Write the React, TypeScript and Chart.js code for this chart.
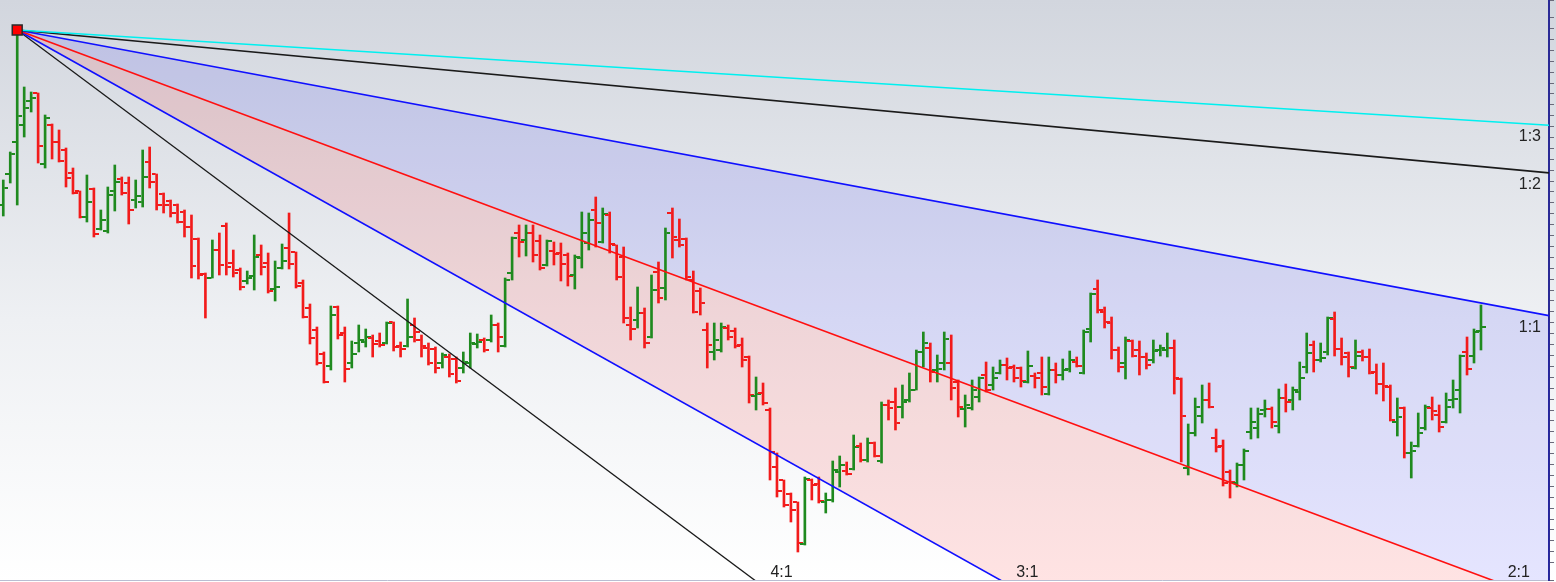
import React, { useEffect, useRef } from "react";
import { Chart, registerables } from "chart.js";

Chart.register(...registerables);

// ---- OHLC data (one bar per session) ----
const opens = [
  129.5, 132.6, 135.8, 137.5, 139.9, 140.7, 133.6, 137.5, 135.8, 135.0,
  132.7, 130.9, 128.3, 131.1, 127.1, 126.9, 130.9, 132.1, 131.7, 130.0,
  129.8, 133.8, 132.6, 130.6, 129.9, 129.5, 128.8, 127.3, 126.1, 122.6,
  122.2, 125.0, 127.4, 123.7, 123.0, 121.9, 122.4, 124.5, 123.7, 121.1,
  123.2, 125.2, 124.8, 121.7, 119.2, 117.0, 114.6, 113.4, 119.3, 116.7,
  113.7, 115.7, 115.8, 116.2, 115.9, 115.7, 117.8, 115.4, 115.4, 117.5,
  116.0, 115.2, 115.1, 113.7, 114.3, 114.1, 113.2, 113.7, 115.6, 116.0,
  116.0, 117.5, 115.4, 122.7, 126.7, 126.0, 126.7, 125.9, 123.5, 124.9,
  124.7, 124.5, 122.5, 124.2, 125.7, 129.0, 125.8, 128.5, 125.5, 124.3,
  117.5, 118.0, 118.7, 116.3, 122.8, 121.2, 128.7, 126.0, 126.1, 122.0,
  120.9, 117.0, 114.8, 115.0, 117.2, 116.9, 115.5, 114.3, 110.4, 110.7,
  109.0, 103.3, 102.0, 100.6, 99.8, 95.6, 102.0, 101.6, 99.8, 100.0,
  102.8, 102.9, 103.1, 105.4, 104.0, 105.7, 103.9, 109.5, 109.8, 109.3,
  110.0, 111.0, 114.8, 115.2, 113.0, 113.7, 113.7, 111.8, 109.1, 109.2,
  110.3, 112.5, 111.5, 112.7, 113.5, 113.3, 113.2, 111.8, 112.4, 112.7,
  110.6, 113.0, 112.5, 113.1, 113.8, 112.7, 117.1, 121.1, 118.8, 117.7,
  115.0, 113.7, 115.9, 115.0, 114.3, 114.0, 115.0, 115.0, 115.2, 112.1,
  103.2, 106.7, 108.4, 110.0, 106.2, 105.4, 102.8, 101.7, 103.5, 106.8,
  107.2, 109.0, 109.1, 107.4, 110.2, 110.0, 110.8, 113.3, 115.5, 114.0,
  114.8, 118.1, 115.1, 114.7, 113.2, 114.8, 114.3, 112.8, 111.6, 111.3,
  107.8, 109.2, 104.7, 105.4, 107.2, 109.2, 108.5, 107.8, 110.0, 111.0,
  114.8, 114.4, 116.9,
];

const highs = [
  132.0, 134.8, 147.0, 141.3, 140.8, 140.7, 138.5, 137.6, 137.0, 135.2,
  133.2, 130.9, 132.5, 131.2, 129.0, 131.3, 133.5, 132.3, 132.3, 132.0,
  135.0, 135.3, 132.6, 130.7, 130.0, 129.6, 129.0, 128.5, 126.2, 122.7,
  126.0, 126.7, 127.7, 125.0, 123.2, 122.9, 126.5, 125.5, 124.7, 123.9,
  125.6, 128.7, 124.8, 122.0, 119.6, 117.3, 114.8, 119.4, 119.4, 117.3,
  115.9, 117.5, 117.1, 116.5, 116.7, 117.8, 117.8, 115.8, 120.1, 118.2,
  116.5, 115.7, 115.3, 114.7, 114.6, 114.3, 114.8, 116.7, 116.6, 116.2,
  118.5, 117.7, 122.2, 126.3, 127.5, 127.5, 127.5, 126.5, 126.0, 125.8,
  125.7, 124.7, 124.5, 128.8, 128.7, 130.3, 129.2, 128.8, 125.5, 125.3,
  119.3, 121.3, 119.2, 122.5, 123.8, 127.2, 129.2, 128.1, 126.2, 122.9,
  121.2, 117.7, 117.7, 117.7, 117.5, 117.2, 116.2, 114.4, 112.3, 111.7,
  109.2, 104.7, 102.0, 100.7, 99.8, 102.3, 102.1, 102.3, 100.7, 103.9,
  104.4, 103.8, 106.5, 105.7, 106.2, 105.8, 109.8, 110.0, 111.2, 111.5,
  112.7, 115.0, 116.8, 115.7, 114.5, 116.8, 116.5, 112.0, 110.5, 112.0,
  112.3, 113.8, 113.3, 114.0, 114.2, 113.5, 113.3, 114.9, 112.7, 114.3,
  114.3, 113.7, 114.1, 114.9, 114.3, 117.0, 120.7, 122.0, 119.3, 118.3,
  115.3, 116.3, 116.0, 115.9, 114.7, 116.0, 115.5, 116.7, 116.0, 112.2,
  107.6, 110.2, 111.5, 111.7, 107.1, 106.0, 103.0, 103.7, 105.1, 109.2,
  109.2, 110.0, 109.3, 111.1, 111.6, 111.3, 113.8, 116.7, 115.9, 115.7,
  118.3, 118.8, 116.2, 114.8, 116.0, 115.0, 115.1, 113.6, 113.7, 111.5,
  110.2, 109.3, 105.8, 108.7, 109.5, 110.3, 109.5, 110.7, 112.0, 114.5,
  116.3, 117.1, 119.5,
];

const lows = [
  128.4, 131.7, 129.5, 136.3, 138.8, 133.7, 133.2, 134.1, 133.8, 131.3,
  130.6, 128.2, 127.8, 126.3, 127.0, 126.7, 128.9, 130.5, 127.6, 129.2,
  129.3, 131.2, 129.0, 128.7, 128.3, 127.7, 126.3, 122.2, 122.1, 118.2,
  122.2, 122.5, 122.5, 122.3, 121.0, 121.6, 121.0, 122.5, 120.7, 119.9,
  123.1, 123.1, 121.2, 118.2, 115.6, 113.5, 111.7, 113.0, 116.1, 111.8,
  113.2, 114.8, 115.3, 114.3, 115.3, 115.6, 114.9, 114.3, 115.3, 115.8,
  114.3, 113.5, 112.7, 113.2, 112.3, 111.7, 112.7, 113.2, 115.2, 114.8,
  115.8, 114.8, 115.3, 122.0, 124.3, 124.4, 123.8, 123.0, 123.4, 123.5,
  121.9, 121.4, 121.1, 123.2, 125.0, 125.3, 125.7, 124.7, 122.0, 117.7,
  116.0, 117.2, 115.2, 116.2, 119.7, 120.0, 124.2, 125.3, 122.0, 118.7,
  118.5, 113.2, 114.0, 114.8, 116.0, 115.2, 113.3, 109.7, 109.0, 109.5,
  102.0, 100.3, 99.3, 97.8, 94.8, 95.5, 100.0, 99.7, 98.7, 99.8,
  101.3, 102.5, 103.0, 103.8, 103.8, 104.3, 103.7, 108.0, 107.0, 108.2,
  109.8, 111.0, 113.3, 111.8, 111.8, 113.0, 110.0, 108.3, 107.3, 109.0,
  109.8, 110.8, 111.0, 112.6, 112.0, 111.8, 111.3, 111.7, 111.2, 110.5,
  110.5, 111.7, 112.0, 112.8, 113.3, 112.6, 115.8, 118.7, 117.2, 114.1,
  112.8, 112.1, 114.3, 112.5, 113.1, 113.7, 114.4, 114.3, 110.6, 103.8,
  102.5, 106.4, 107.7, 109.2, 104.8, 101.4, 100.2, 101.3, 102.0, 106.1,
  106.2, 108.3, 107.2, 106.7, 108.8, 109.0, 110.0, 112.7, 112.8, 113.8,
  114.5, 114.4, 113.5, 112.3, 113.1, 113.9, 112.6, 110.6, 109.9, 107.9,
  106.4, 104.2, 102.2, 105.3, 107.0, 108.0, 106.8, 107.7, 109.2, 108.7,
  112.5, 113.7, 115.0,
];

const closes = [
  131.2, 134.6, 138.4, 139.2, 140.2, 135.4, 138.2, 135.8, 133.9, 132.2,
  130.7, 128.3, 129.8, 126.6, 128.0, 130.5, 131.8, 130.7, 129.0, 130.4,
  132.3, 131.8, 129.5, 129.5, 128.7, 127.8, 127.3, 123.4, 122.5, 122.2,
  125.0, 123.5, 123.3, 122.7, 121.3, 122.2, 124.3, 123.3, 120.9, 121.3,
  123.9, 123.6, 121.4, 118.3, 116.2, 113.7, 111.8, 118.5, 116.5, 113.1,
  114.6, 116.0, 116.3, 115.6, 115.5, 117.7, 115.3, 115.1, 116.3, 116.8,
  115.4, 113.7, 113.2, 114.5, 112.6, 111.9, 113.8, 115.7, 115.8, 115.0,
  117.5, 116.3, 122.0, 126.2, 125.8, 126.7, 124.5, 123.2, 125.9, 124.6,
  123.6, 122.4, 124.3, 126.7, 128.0, 127.7, 128.6, 125.6, 122.3, 118.2,
  117.1, 118.7, 115.7, 121.0, 120.2, 126.7, 126.3, 125.5, 122.3, 118.8,
  119.7, 115.5, 116.0, 117.3, 116.3, 115.4, 114.0, 110.5, 110.6, 109.7,
  104.8, 100.9, 99.5, 99.0, 95.7, 102.1, 101.5, 99.9, 100.0, 103.0,
  103.5, 102.6, 105.3, 104.0, 105.7, 104.4, 109.5, 109.2, 107.7, 109.8,
  111.0, 114.8, 115.7, 112.8, 113.1, 116.1, 111.2, 109.3, 109.5, 111.0,
  112.2, 111.0, 112.2, 113.5, 113.2, 112.2, 111.9, 113.4, 112.2, 111.3,
  113.0, 112.5, 113.0, 114.0, 113.4, 116.8, 120.6, 119.0, 117.8, 115.0,
  113.3, 116.0, 114.4, 114.3, 113.5, 114.9, 115.2, 115.2, 112.2, 108.4,
  106.7, 109.3, 110.0, 109.3, 105.3, 101.7, 101.8, 103.5, 104.9, 107.8,
  108.6, 109.1, 107.8, 110.2, 109.8, 111.0, 112.2, 114.7, 114.0, 114.2,
  118.2, 115.1, 114.3, 113.3, 114.4, 114.3, 112.7, 111.6, 111.4, 108.0,
  108.3, 104.7, 104.9, 106.7, 109.3, 108.9, 107.3, 109.3, 110.1, 114.4,
  113.1, 116.8, 117.3,
];

// ---- Gann fan ----
const fanOriginBar = 2;
const fanOriginPrice = 147.0;
const fanUnitSlope = 0.13; // price per bar for the 1x1 line
const fanLabels = ["1:3", "1:2", "1:1", "2:1", "3:1", "4:1"];
const fanMultipliers = [1 / 3, 1 / 2, 1, 2, 3, 4];
const fanColors = ["#00f0f0", "#1a1a1a", "#1010ff", "#ff1010", "#1010ff", "#1a1a1a"];

// ---- axes ----
const xMin = -0.47;
const xMax = 221.76;
const yMin = 92;
const yMax = 150;
const yTickStep = 1.09;

const UP = "#1f8a1f";
const DOWN = "#f21b1b";

function makeTick(color: string, left: boolean) {
  const c = document.createElement("canvas");
  c.width = 10;
  c.height = 2;
  const g = c.getContext("2d")!;
  g.fillStyle = color;
  g.fillRect(left ? 0 : 6, 0, 4, 2);
  return c;
}

export default function App() {
  const ref = useRef<HTMLCanvasElement | null>(null);

  useEffect(() => {
    if (!ref.current) return;
    const openUp = makeTick(UP, true);
    const openDn = makeTick(DOWN, true);
    const closeUp = makeTick(UP, false);
    const closeDn = makeTick(DOWN, false);
    const isUp = (i: number) => closes[i] >= opens[i];
    const barColors = opens.map((_, i) => (isUp(i) ? UP : DOWN));

    const fanDatasets: any[] = fanMultipliers.map((m, k) => {
      const slope = fanUnitSlope * m;
      const ds: any = {
        type: "line",
        label: fanLabels[k],
        data: [
          { x: fanOriginBar, y: fanOriginPrice },
          { x: xMax, y: fanOriginPrice - slope * (xMax - fanOriginBar) },
        ],
        borderColor: fanColors[k],
        borderWidth: k === 5 ? 1.3 : 1.6,
        pointRadius: 0,
        fill: false,
        order: 0,
      };
      if (k === 2) {
        ds.fill = { target: 3 };
        ds.backgroundColor = "rgba(0,0,255,0.10)";
      }
      if (k === 3) {
        ds.fill = { target: 4 };
        ds.backgroundColor = "rgba(255,0,0,0.11)";
      }
      return ds;
    });

    const bgPlugin = {
      id: "bg",
      beforeDraw(chart: any) {
        const { ctx, width, height } = chart;
        const g = ctx.createLinearGradient(0, 0, 0, height);
        g.addColorStop(0, "#d2d6de");
        g.addColorStop(0.55, "#eef0f3");
        g.addColorStop(1, "#ffffff");
        ctx.save();
        ctx.fillStyle = g;
        ctx.fillRect(0, 0, width, height);
        ctx.restore();
      },
    };

    const labelPlugin = {
      id: "fanLabels",
      afterDatasetsDraw(chart: any) {
        const { ctx, chartArea, scales } = chart;
        const xs = scales.x;
        const ys = scales.y;
        ctx.save();
        ctx.font = '16px "Liberation Sans", Arial, sans-serif';
        ctx.fillStyle = "#222222";
        ctx.textBaseline = "alphabetic";
        fanMultipliers.forEach((m, k) => {
          const slope = fanUnitSlope * m;
          const endVal = fanOriginPrice - slope * (xMax - fanOriginBar);
          if (endVal >= yMin) {
            const py = ys.getPixelForValue(endVal);
            ctx.textAlign = "right";
            ctx.fillText(fanLabels[k], chartArea.right - 8, py + 16);
          } else {
            const exitBar = fanOriginBar + (fanOriginPrice - yMin) / slope;
            const px = xs.getPixelForValue(exitBar);
            ctx.textAlign = "left";
            ctx.fillText(fanLabels[k], px + 16, chartArea.bottom - 3);
          }
        });
        ctx.restore();
      },
    };

    const chart = new Chart(ref.current, {
      type: "scatter",
      data: {
        datasets: [
          ...fanDatasets,
          {
            type: "bar",
            label: "range",
            data: highs.map((h, i) => ({ x: i, y: [lows[i], h] })),
            backgroundColor: barColors,
            borderWidth: 0,
            barThickness: 2,
            grouped: false,
            order: 3,
          } as any,
          {
            type: "scatter",
            label: "open",
            data: opens.map((o, i) => ({ x: i, y: o })),
            pointStyle: (c: any) => (isUp(c.dataIndex) ? openUp : openDn),
            pointRadius: 3,
            showLine: false,
            order: 2,
          } as any,
          {
            type: "scatter",
            label: "close",
            data: closes.map((v, i) => ({ x: i, y: v })),
            pointStyle: (c: any) => (isUp(c.dataIndex) ? closeUp : closeDn),
            pointRadius: 3,
            showLine: false,
            order: 2,
          } as any,
          {
            type: "scatter",
            label: "origin",
            data: [{ x: fanOriginBar, y: fanOriginPrice }],
            pointStyle: "rect",
            pointRadius: 7,
            backgroundColor: "#ff0000",
            borderColor: "#2a2a2a",
            borderWidth: 1.5,
            order: -1,
            clip: false,
          } as any,
        ],
      },
      options: {
        responsive: false,
        maintainAspectRatio: false,
        animation: false,
        layout: { padding: 0, autoPadding: false },
        plugins: {
          legend: { display: false },
          tooltip: { enabled: false },
          filler: { drawTime: "beforeDatasetsDraw" },
        } as any,
        scales: {
          x: {
            type: "linear",
            min: xMin,
            max: xMax,
            offset: false,
            position: "bottom",
            ticks: { display: false },
            grid: { display: false, drawTicks: false, offset: false },
            border: { display: true, color: "#b9bdd2", width: 1 },
            afterFit: (s: any) => {
              s.height = 2;
            },
          },
          y: {
            type: "linear",
            position: "right",
            min: yMin,
            max: yMax,
            beginAtZero: false,
            ticks: { display: false, stepSize: yTickStep },
            grid: {
              drawOnChartArea: false,
              drawTicks: true,
              tickLength: 5,
              color: "#6a6a7a",
              lineWidth: 1,
            },
            border: { display: true, color: "#2a2a96", width: 2 },
            afterFit: (s: any) => {
              s.width = 7;
            },
          },
        },
      } as any,
      plugins: [bgPlugin, labelPlugin],
    });

    return () => chart.destroy();
  }, []);

  return (
    <div style={{ position: "fixed", left: 0, top: 0, width: 1556, height: 582 }}>
      <canvas ref={ref} width={1556} height={582} style={{ display: "block", width: 1556, height: 582 }} />
    </div>
  );
}
